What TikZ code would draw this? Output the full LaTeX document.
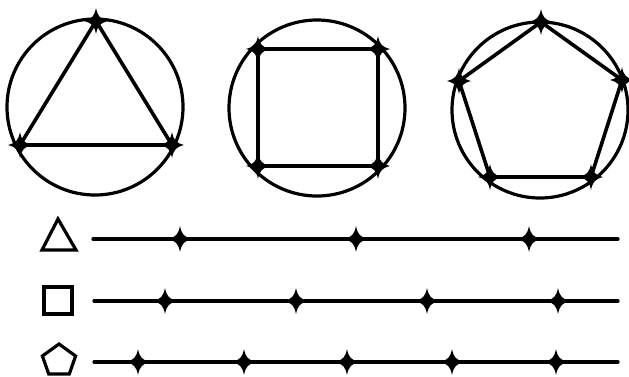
\documentclass[tikz,border=0pt]{standalone}
\begin{document}
\begin{tikzpicture}[x=1pt,y=-1pt,
  ring/.style={circle,draw,line width=3.2pt,inner sep=0pt,minimum size=176pt},
  edge/.style={line width=3.6pt,line join=round,line cap=round},
  rule/.style={line width=3.2pt,line cap=round},
  sym/.style={line width=3.2pt,line join=miter},
  spark/.pic={\fill (0,-13) .. controls (1.8,-4.5) and (4,-2.2) .. (12,0)
      .. controls (4,2.2) and (1.8,4.5) .. (0,13)
      .. controls (-1.8,4.5) and (-4,2.2) .. (-12,0)
      .. controls (-4,-2.2) and (-1.8,-4.5) .. cycle;}]
\useasboundingbox (0,0) rectangle (629,376);
% circles
\node[ring] (c1) at (95,107) {};
\node[ring] (c2) at (317,108) {};
\node[ring] (c3) at (540,110) {};
% triangle
\coordinate (t1) at (96,21);
\coordinate (t2) at (20,145);
\coordinate (t3) at (172,145);
\draw[edge] (t1) -- (t2) -- (t3) -- cycle;
\foreach \p in {t1,t2,t3} \pic at (\p) {spark};
% square
\coordinate (s1) at (258,49);
\coordinate (s2) at (378,49);
\coordinate (s3) at (378,166);
\coordinate (s4) at (258,166);
\draw[edge] (s1) -- (s2) -- (s3) -- (s4) -- cycle;
\foreach \p in {s1,s2,s3,s4} \pic at (\p) {spark};
% pentagon
\coordinate (p1) at (541,22);
\coordinate (p2) at (622,80);
\coordinate (p3) at (591,177);
\coordinate (p4) at (490,177);
\coordinate (p5) at (459,81);
\draw[edge] (p1) -- (p2) -- (p3) -- (p4) -- (p5) -- cycle;
\foreach \p in {p1,p2,p3,p4,p5} \pic at (\p) {spark};
% symbols
\draw[sym] (58,219) -- (42,250) -- (76,250) -- cycle;
\draw[sym] (44,287) rectangle (72,314);
\draw[sym] (59,344) -- (75.6,356) -- (69.3,374) -- (48.7,374) -- (42.4,356) -- cycle;
% rule lines
\coordinate (a0) at (93,239); \coordinate (a1) at (618,239);
\coordinate (b0) at (94,301); \coordinate (b1) at (618,301);
\coordinate (d0) at (94,362); \coordinate (d1) at (618,362);
\draw[rule] (a0) -- (a1);
\draw[rule] (b0) -- (b1);
\draw[rule] (d0) -- (d1);
\foreach \x in {180,356,529} \pic at (\x,239) {spark};
\foreach \x in {165,296,427,558} \pic at (\x,301) {spark};
\foreach \x in {138,244,347,452,556} \pic at (\x,362) {spark};
\end{tikzpicture}
\end{document}
